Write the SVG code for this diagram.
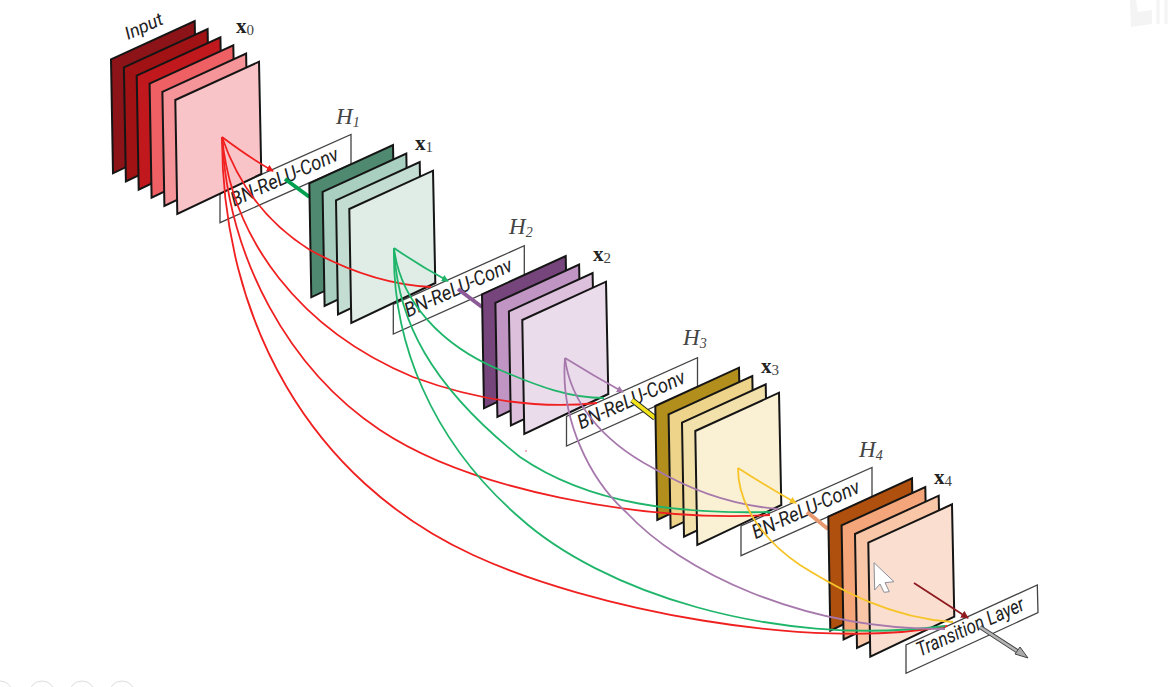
<svg xmlns="http://www.w3.org/2000/svg" width="1171" height="687" viewBox="0 0 1171 687">
<style>
.sheet{stroke:#151515;stroke-width:2;stroke-linejoin:miter}
.box{fill:#fff;stroke:#444;stroke-width:1.3}
.lbl{font-family:Roboto,"Liberation Sans",sans-serif;font-style:italic;fill:#222}
.bn{font-size:20px}
.h{font-family:"Liberation Serif",serif;font-style:italic;font-size:23px;fill:#444}
.hs{font-size:14px}
.x{font-family:"Liberation Serif",serif;font-weight:bold;font-size:21px;fill:#222}
.xs{font-weight:normal;font-size:15px;fill:#444}
.c{fill:none;stroke-width:1.8}
.r{stroke:#f02020}.g{stroke:#1fb56a}.p{stroke:#a678ac}.y{stroke:#f6c428}
.stub{stroke-width:4;fill:none}
.faint{fill:none;stroke:#dedede;stroke-width:1}
</style>
<defs>
<polygon id="sheet" class="sheet" points="0,0 83.7,-38.3 86,74 2,114"/>
<g id="bx"><polygon class="box" points="0,0 0,-29.7 131,-88.3 131,-58.6"/></g>
<marker id="mr" viewBox="0 0 8 8" refX="7" refY="4" markerWidth="7" markerHeight="7" markerUnits="userSpaceOnUse" orient="auto"><path d="M0,0L8,4L0,8Z" fill="#e81c1c"/></marker>
<marker id="mg" viewBox="0 0 8 8" refX="7" refY="4" markerWidth="7" markerHeight="7" markerUnits="userSpaceOnUse" orient="auto"><path d="M0,0L8,4L0,8Z" fill="#1fb56a"/></marker>
<marker id="mp" viewBox="0 0 8 8" refX="7" refY="4" markerWidth="7" markerHeight="7" markerUnits="userSpaceOnUse" orient="auto"><path d="M0,0L8,4L0,8Z" fill="#a678ac"/></marker>
<marker id="my" viewBox="0 0 8 8" refX="7" refY="4" markerWidth="7" markerHeight="7" markerUnits="userSpaceOnUse" orient="auto"><path d="M0,0L8,4L0,8Z" fill="#f6c428"/></marker>
<marker id="md" viewBox="0 0 8 8" refX="7" refY="4" markerWidth="8" markerHeight="8" markerUnits="userSpaceOnUse" orient="auto"><path d="M0,0L8,4L0,8Z" fill="#8e1a20"/></marker>
</defs>
<rect width="1171" height="687" fill="#fff"/>

<g id="box-h1"><use href="#bx" x="220" y="222.7"/><text class="lbl bn" textLength="116" lengthAdjust="spacingAndGlyphs" transform="translate(234.3,206.7) rotate(-24.1)">BN-ReLU-Conv</text></g>
<g id="box-h2"><use href="#bx" x="393.3" y="334"/><text class="lbl bn" textLength="116" lengthAdjust="spacingAndGlyphs" transform="translate(408,317.5) rotate(-24.1)">BN-ReLU-Conv</text></g>
<g id="box-h3"><use href="#bx" x="566.5" y="446"/><text class="lbl bn" textLength="116" lengthAdjust="spacingAndGlyphs" transform="translate(581,429.5) rotate(-24.1)">BN-ReLU-Conv</text></g>
<g id="box-h4"><use href="#bx" x="741" y="555.7"/><text class="lbl bn" textLength="116" lengthAdjust="spacingAndGlyphs" transform="translate(755.5,539.2) rotate(-24.1)">BN-ReLU-Conv</text></g>
<g id="box-transition"><polygon class="box" points="906,673.3 906,645 1037.3,585 1038,612.7"/><text class="lbl bn" textLength="116" lengthAdjust="spacingAndGlyphs" transform="translate(920,656.7) rotate(-24.1)">Transition Layer</text></g>

<g id="stubs">
<path class="stub" stroke="#00a050" d="M285,179L309.5,197"/>
<path class="stub" stroke="#8c5a96" d="M458,289L482,307"/>
<path d="M632,400L655,418" fill="none" stroke="#222" stroke-width="5.6"/>
<path d="M632,400L655,418" fill="none" stroke="#f2e41c" stroke-width="3.8"/>
<path class="stub" stroke="#e8986e" d="M807,512L828,529"/>
</g>

<g id="stack-x0">
<use href="#sheet" x="111" y="59.3" fill="#8c1418"/>
<use href="#sheet" x="123.9" y="67.4" fill="#a01214"/>
<use href="#sheet" x="136.7" y="75.6" fill="#c0181c"/>
<use href="#sheet" x="149.6" y="83.7" fill="#ee6064"/>
<use href="#sheet" x="162.4" y="91.9" fill="#f59499"/>
<use href="#sheet" x="175.3" y="100" fill="#f9c4c8"/>
</g>
<g id="stack-x1">
<use href="#sheet" x="309.3" y="183.3" fill="#4f8a70"/>
<use href="#sheet" x="322.6" y="191.9" fill="#a8cfbf"/>
<use href="#sheet" x="336" y="200.4" fill="#c3ddd2"/>
<use href="#sheet" x="349.3" y="209" fill="#e0ede7"/>
</g>
<g id="stack-x2">
<use href="#sheet" x="482" y="294.3" fill="#76457b"/>
<use href="#sheet" x="495.4" y="302.9" fill="#c195c3"/>
<use href="#sheet" x="508.9" y="311.4" fill="#dcc0dc"/>
<use href="#sheet" x="522.3" y="320" fill="#ebdcec"/>
</g>
<g id="stack-x3">
<use href="#sheet" x="655.3" y="406" fill="#b28e1c"/>
<use href="#sheet" x="668.6" y="414.3" fill="#eed48a"/>
<use href="#sheet" x="682" y="422.7" fill="#f3e1ac"/>
<use href="#sheet" x="695.3" y="431" fill="#faf0d4"/>
</g>
<g id="stack-x4">
<use href="#sheet" x="828.3" y="516.7" fill="#b0500f"/>
<use href="#sheet" x="841.6" y="525.4" fill="#f4a67a"/>
<use href="#sheet" x="855" y="534" fill="#f9c7a8"/>
<use href="#sheet" x="868.3" y="542.7" fill="#fadfd0"/>
</g>

<g id="labels">
<text class="lbl" font-size="18" textLength="40" lengthAdjust="spacingAndGlyphs" transform="translate(128,40) rotate(-24.1)">Input</text>
<text class="x" x="236" y="33">x<tspan class="xs" dy="2">0</tspan></text>
<text class="x" x="415" y="150">x<tspan class="xs" dy="2">1</tspan></text>
<text class="x" x="593" y="261">x<tspan class="xs" dy="2">2</tspan></text>
<text class="x" x="761" y="373">x<tspan class="xs" dy="2">3</tspan></text>
<text class="x" x="934" y="484">x<tspan class="xs" dy="2">4</tspan></text>
<text class="h" x="336" y="124">H<tspan class="hs" dy="3">1</tspan></text>
<text class="h" x="509" y="234">H<tspan class="hs" dy="3">2</tspan></text>
<text class="h" x="683" y="345">H<tspan class="hs" dy="3">3</tspan></text>
<text class="h" x="859" y="457">H<tspan class="hs" dy="3">4</tspan></text>
</g>

<g id="connectors">
<path class="c r" marker-end="url(#mr)" d="M222,137Q250,158 273,171"/>
<path class="c r" d="M222,137C240,190 270,225 310,250C350,272 390,285 431,287"/>
<path class="c r" d="M222,137C232,240 300,330 413,377C470,398 530,410 597,403"/>
<path class="c r" d="M222,137C228,260 290,370 380,430C470,490 640,522 770,515"/>
<path class="c r" d="M222,137C222,320 310,480 473,555C590,609 810,652 947,626"/>
<path class="c g" marker-end="url(#mg)" d="M394,248Q420,266 448,281"/>
<path class="c g" d="M394,248C400,300 440,345 500,370C540,387 570,398 604,398"/>
<path class="c g" d="M394,248C397,320 430,385 520,457C590,505 680,514 770,512"/>
<path class="c g" d="M394,248C392,340 430,440 520,518C600,590 770,648 945,626"/>
<path class="c p" marker-end="url(#mp)" d="M565,358Q594,376 623,392"/>
<path class="c p" d="M565,358C570,400 600,440 653,468C690,490 730,505 778,509"/>
<path class="c p" d="M565,358C560,420 590,480 627,513C680,570 800,630 945,629"/>
<path class="c y" marker-end="url(#my)" d="M738,468Q766,486 796,503"/>
<path class="c y" d="M738,468C738,510 770,545 800,565C840,590 890,618 953,622"/>
<path d="M914,583L968,618" fill="none" stroke="#8e1a20" stroke-width="1.8" marker-end="url(#md)"/>
<path d="M980,627L1020,653" fill="none" stroke="#444" stroke-width="4.4"/>
<path d="M980,627L1020,653" fill="none" stroke="#b5b5b5" stroke-width="2.6"/>
<path d="M1028,658L1015,654L1020,647Z" fill="#aaa" stroke="#444" stroke-width="1"/>
</g>

<polygon id="cursor" points="874,562.7 894,581.7 885,582.7 889.3,591.7 884,592.3 880,584 874.7,590" fill="#fff" stroke="#8a8f98" stroke-width="1"/>
<circle cx="526" cy="451" r="0.8" fill="#e04060"/>
<g id="page-marks">
<circle class="faint" cx="0" cy="694" r="13"/><circle class="faint" cx="42" cy="694" r="13"/><circle class="faint" cx="82" cy="694" r="13"/><circle class="faint" cx="122" cy="694" r="13"/>
<path d="M1130,0L1131,27L1152,24L1152,10L1138,12L1136,0Z" fill="#f4f4f4"/>
<path d="M1158,0V24M1166,0V24" fill="none" stroke="#f4f4f4" stroke-width="3"/>
</g>
</svg>
